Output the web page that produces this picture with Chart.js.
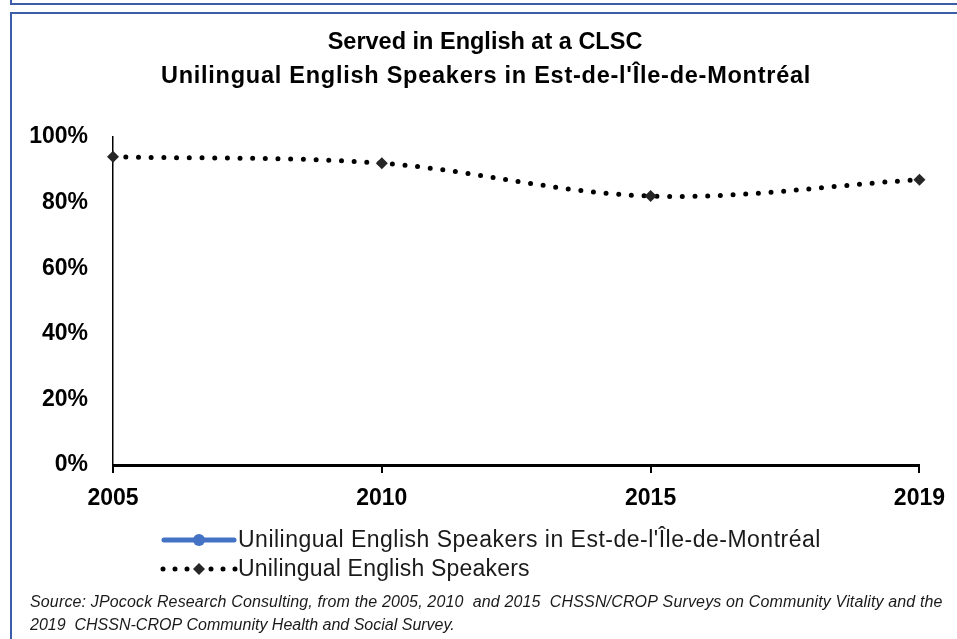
<!DOCTYPE html>
<html>
<head>
<meta charset="utf-8">
<script src="https://cdn.jsdelivr.net/npm/chart.js@4.4.1/dist/chart.umd.min.js"></script>
<style>
  html, body { margin: 0; padding: 0; background: #fff; }
  canvas { display: block; }
</style>
</head>
<body>
<canvas id="chart" width="957" height="639"></canvas>
<script>
// data
const years = ['2005', '2010', '2015', '2019'];
const estMontreal = [null, null, null, null];          // blue series has no visible values
const allUnilingual = [0.94, 0.92, 0.82, 0.87];
const yTickValues = [0, 0.2, 0.4, 0.6, 0.8, 1];

const titleLines = ['Served in English at a CLSC', "Unilingual English Speakers in Est-de-l'Île-de-Montréal"];
const seriesNames = ["Unilingual English Speakers in Est-de-l'Île-de-Montréal", 'Unilingual English Speakers'];
const sourceLines = [
    'Source: JPocock Research Consulting, from the 2005, 2010  and 2015  CHSSN/CROP Surveys on Community Vitality and the',
    '2019  CHSSN-CROP Community Health and Social Survey.'
];

const FONT = "'Liberation Sans', Arial, sans-serif";
const BLUE = '#4472C4';
const FRAME = '#3b5ca6';

// text with a bit of extra letter spacing (the original font is wider)
const spacedText = (ctx, text, x, y, spacing) => {
    ctx.letterSpacing = spacing + 'px';
    ctx.fillText(text, x, y);
    ctx.letterSpacing = '0px';
};

// frame, title, legend and source note
const decorations = {
    id: 'decorations',
    beforeDraw(chart) {
        const ctx = chart.ctx;
        ctx.save();
        ctx.fillStyle = '#fff';
        ctx.fillRect(0, 0, chart.width, chart.height);
        ctx.strokeStyle = FRAME;
        ctx.lineWidth = 2;
        ctx.beginPath();
        ctx.moveTo(11, 0); ctx.lineTo(11, 4); ctx.lineTo(957, 4);
        ctx.moveTo(11, 639); ctx.lineTo(11, 13); ctx.lineTo(957, 13);
        ctx.stroke();
        ctx.restore();
    },
    afterDraw(chart) {
        const ctx = chart.ctx;
        ctx.save();
        ctx.fillStyle = '#000';
        ctx.textAlign = 'center';
        ctx.textBaseline = 'middle';
        ctx.font = 'bold 23.5px ' + FONT;
        ctx.fillText(titleLines[0], 485, 43);
        spacedText(ctx, titleLines[1], 486, 77, 0.75);

        // legend row 1: blue line with circle
        ctx.strokeStyle = BLUE;
        ctx.lineWidth = 5;
        ctx.lineCap = 'round';
        ctx.beginPath();
        ctx.moveTo(164, 540); ctx.lineTo(234, 540);
        ctx.stroke();
        ctx.fillStyle = BLUE;
        ctx.beginPath();
        ctx.arc(199, 540, 6, 0, Math.PI * 2);
        ctx.fill();

        // legend row 2: dotted line with diamond
        ctx.strokeStyle = '#000';
        ctx.setLineDash([0, 12]);
        ctx.beginPath();
        ctx.moveTo(163, 569); ctx.lineTo(236, 569);
        ctx.stroke();
        ctx.setLineDash([]);
        ctx.fillStyle = '#262626';
        ctx.beginPath();
        ctx.moveTo(199, 563); ctx.lineTo(205, 569); ctx.lineTo(199, 575); ctx.lineTo(193, 569);
        ctx.closePath();
        ctx.fill();

        ctx.fillStyle = '#1a1a1a';
        ctx.textAlign = 'left';
        ctx.font = '23px ' + FONT;
        spacedText(ctx, seriesNames[0], 238, 541, 0.5);
        spacedText(ctx, seriesNames[1], 238, 570, 0.2);

        ctx.font = 'italic 16px ' + FONT;
        spacedText(ctx, sourceLines[0], 30, 603, 0.15);
        ctx.fillText(sourceLines[1], 30, 626);
        ctx.restore();
    }
};

const chart = new Chart(document.getElementById('chart'), {
    type: 'line',
    data: {
        labels: years,
        datasets: [
            {
                label: seriesNames[0],
                data: estMontreal,
                borderColor: BLUE,
                backgroundColor: BLUE,
                borderWidth: 5,
                pointRadius: 6
            },
            {
                label: seriesNames[1],
                data: allUnilingual,
                borderColor: '#000',
                backgroundColor: '#262626',
                borderWidth: 5,
                borderDash: [0, 12.7],
                borderCapStyle: 'round',
                tension: 0.35,
                pointStyle: 'rectRot',
                pointRadius: 6,
                pointBorderWidth: 0,
                clip: false
            }
        ]
    },
    options: {
        responsive: false,
        animation: false,
        layout: {
            padding: { top: 137, left: 10, right: 37, bottom: 129 }
        },
        plugins: {
            legend: { display: false },
            title: { display: false },
            tooltip: { enabled: false }
        },
        scales: {
            x: {
                offset: false,
                grid: {
                    drawOnChartArea: false,
                    drawTicks: true,
                    tickLength: 8,
                    color: '#000',
                    lineWidth: 2
                },
                border: { display: true, color: '#000', width: 3 },
                ticks: {
                    color: '#000',
                    padding: 12,
                    maxRotation: 0,
                    font: { family: FONT, size: 23, weight: 'bold' }
                },
                afterFit: scale => { scale.height = 45; }
            },
            y: {
                min: 0,
                max: 1,
                grid: { display: false, drawTicks: false },
                border: { display: true, color: '#000', width: 1.5 },
                ticks: {
                    color: '#000',
                    padding: 25,
                    font: { family: FONT, size: 23, weight: 'bold' },
                    callback: v => Math.round(v * 100) + '%'
                },
                afterBuildTicks: scale => {
                    scale.ticks = yTickValues.map(v => ({ value: v }));
                },
                afterFit: scale => { scale.width = 103; }
            }
        }
    },
    plugins: [decorations]
});
</script>
</body>
</html>
